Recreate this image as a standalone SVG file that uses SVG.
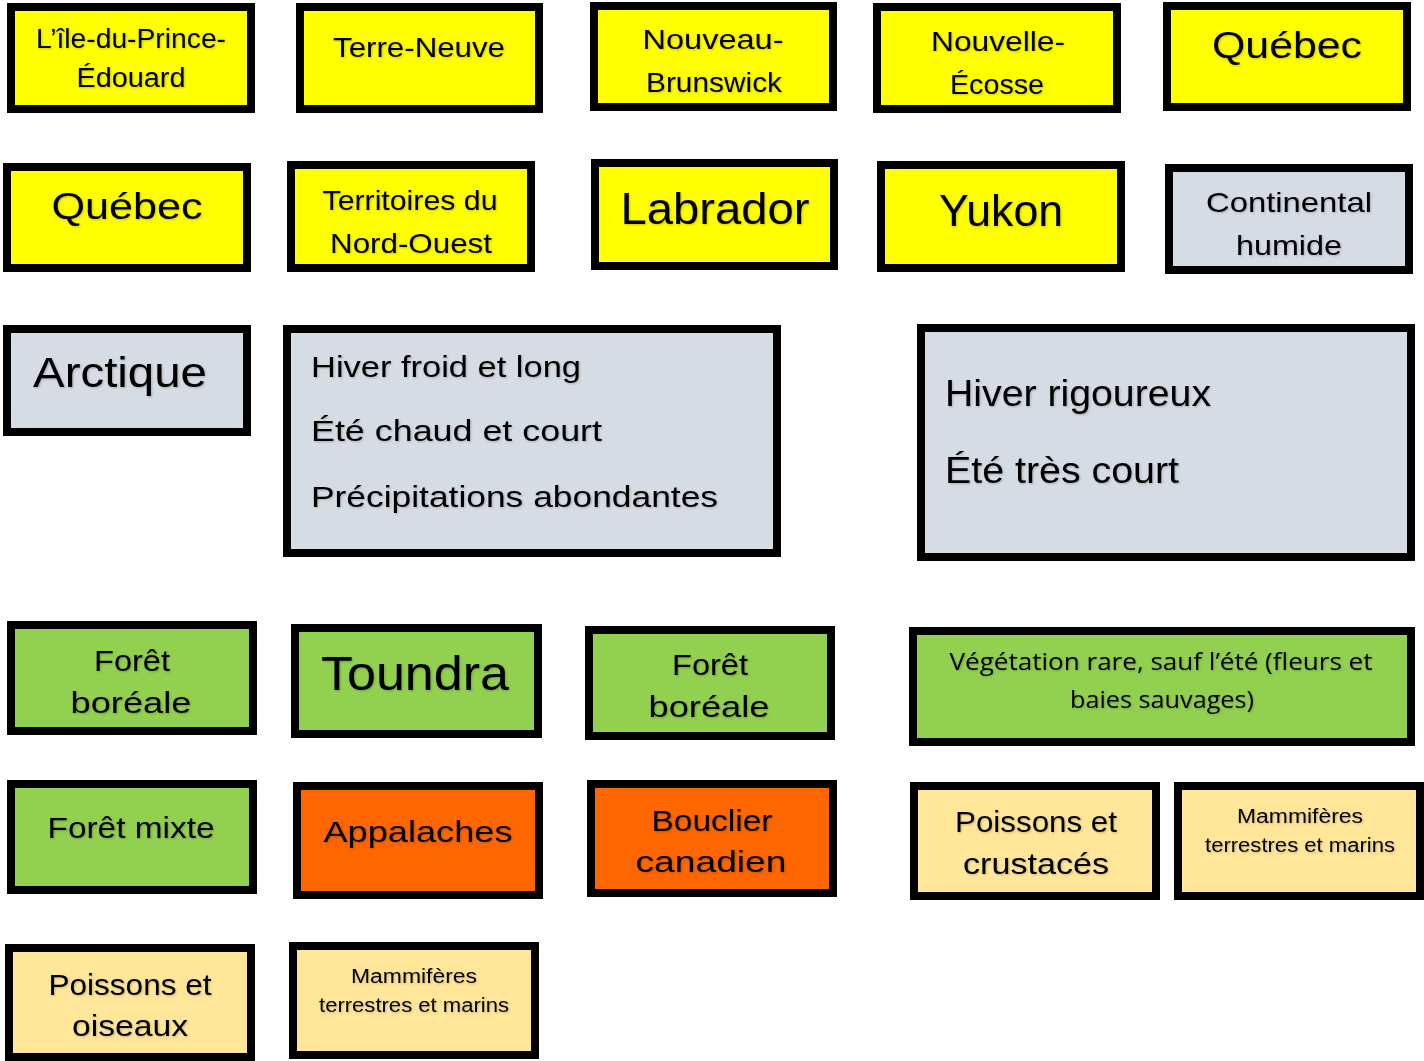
<svg xmlns="http://www.w3.org/2000/svg" width="1424" height="1061" viewBox="0 0 1424 1061">
<defs>
<filter id="ts" x="-5%" y="-20%" width="110%" height="140%">
<feDropShadow dx="1" dy="1" stdDeviation="0.8" flood-color="#000" flood-opacity="0.22"/>
</filter>
</defs>
<style>
rect{stroke:#000;stroke-width:8}
.y{fill:#FFFF00}.g{fill:#D6DCE4}.v{fill:#92D050}.o{fill:#FF6600}.t{fill:#FFE699}
text{font-family:"Liberation Sans",Arial,sans-serif;fill:#000;text-anchor:middle;filter:url(#ts)}
.l{text-anchor:start}
.c{font-family:"Open Sans","Liberation Sans",sans-serif}
</style>
<rect x="0" y="0" width="1424" height="1061" style="fill:#fff;stroke:none"/>
<g id="connectors"/>
<g id="n1"><rect class="y" x="11" y="7" width="240" height="102"/>
<text x="131" y="48" font-size="27" textLength="190" lengthAdjust="spacingAndGlyphs">L’île-du-Prince-</text>
<text x="131" y="87" font-size="27" textLength="109" lengthAdjust="spacingAndGlyphs">Édouard</text></g>
<g id="n2"><rect class="y" x="300" y="7" width="239" height="102"/>
<text x="419" y="57" font-size="28" textLength="172" lengthAdjust="spacingAndGlyphs">Terre-Neuve</text></g>
<g id="n3"><rect class="y" x="594" y="6" width="239" height="101"/>
<text x="713" y="49" font-size="28" textLength="141" lengthAdjust="spacingAndGlyphs">Nouveau-</text>
<text x="714" y="92" font-size="28" textLength="136" lengthAdjust="spacingAndGlyphs">Brunswick</text></g>
<g id="n4"><rect class="y" x="877" y="7" width="240" height="102"/>
<text x="998" y="51" font-size="28" textLength="134" lengthAdjust="spacingAndGlyphs">Nouvelle-</text>
<text x="997" y="94" font-size="28" textLength="94" lengthAdjust="spacingAndGlyphs">Écosse</text></g>
<g id="n5"><rect class="y" x="1167" y="6" width="240" height="101"/>
<text x="1287" y="58" font-size="36" textLength="150" lengthAdjust="spacingAndGlyphs">Québec</text></g>
<g id="n6"><rect class="y" x="7" y="167" width="240" height="101"/>
<text x="127" y="219" font-size="36" textLength="151" lengthAdjust="spacingAndGlyphs">Québec</text></g>
<g id="n7"><rect class="y" x="291" y="165" width="240" height="103"/>
<text x="410" y="210" font-size="28" textLength="175" lengthAdjust="spacingAndGlyphs">Territoires du</text>
<text x="411" y="253" font-size="28" textLength="162" lengthAdjust="spacingAndGlyphs">Nord-Ouest</text></g>
<g id="n8"><rect class="y" x="595" y="163" width="239" height="103"/>
<text x="715" y="224" font-size="44" textLength="189" lengthAdjust="spacingAndGlyphs">Labrador</text></g>
<g id="n9"><rect class="y" x="881" y="165" width="240" height="103"/>
<text x="1001" y="226" font-size="44" textLength="124" lengthAdjust="spacingAndGlyphs">Yukon</text></g>
<g id="n10"><rect class="g" x="1169" y="168" width="240" height="102"/>
<text x="1289" y="212" font-size="28" textLength="166" lengthAdjust="spacingAndGlyphs">Continental</text>
<text x="1289" y="255" font-size="28" textLength="106" lengthAdjust="spacingAndGlyphs">humide</text></g>
<g id="n11"><rect class="g" x="7" y="329" width="240" height="103"/>
<text x="120" y="387" font-size="42" textLength="174" lengthAdjust="spacingAndGlyphs">Arctique</text></g>
<g id="n12"><rect class="g" x="287" y="329" width="490" height="224"/>
<text class="l" x="311" y="377" font-size="30" textLength="270" lengthAdjust="spacingAndGlyphs">Hiver froid et long</text>
<text class="l" x="311" y="441" font-size="30" textLength="291" lengthAdjust="spacingAndGlyphs">Été chaud et court</text>
<text class="l" x="311" y="507" font-size="30" textLength="407" lengthAdjust="spacingAndGlyphs">Précipitations abondantes</text></g>
<g id="n13"><rect class="g" x="921" y="328" width="490" height="229"/>
<text class="l" x="945" y="406" font-size="36" textLength="266" lengthAdjust="spacingAndGlyphs">Hiver rigoureux</text>
<text class="l" x="945" y="483" font-size="36" textLength="234" lengthAdjust="spacingAndGlyphs">Été très court</text></g>
<g id="n14"><rect class="v" x="11" y="625" width="242" height="106"/>
<text x="132" y="671" font-size="30" textLength="76" lengthAdjust="spacingAndGlyphs">Forêt</text>
<text x="131" y="713" font-size="30" textLength="121" lengthAdjust="spacingAndGlyphs">boréale</text></g>
<g id="n15"><rect class="v" x="295" y="628" width="243" height="106"/>
<text x="415" y="690" font-size="48" textLength="188" lengthAdjust="spacingAndGlyphs">Toundra</text></g>
<g id="n16"><rect class="v" x="589" y="630" width="242" height="106"/>
<text x="710" y="675" font-size="30" textLength="76" lengthAdjust="spacingAndGlyphs">Forêt</text>
<text x="709" y="717" font-size="30" textLength="121" lengthAdjust="spacingAndGlyphs">boréale</text></g>
<g id="n17"><rect class="v" x="913" y="631" width="498" height="111"/>
<text class="c" x="1161" y="670" font-size="24" textLength="423" lengthAdjust="spacingAndGlyphs">Végétation rare, sauf l’été (fleurs et</text>
<text class="c" x="1162" y="708" font-size="24" textLength="184" lengthAdjust="spacingAndGlyphs">baies sauvages)</text></g>
<g id="n18"><rect class="v" x="11" y="784" width="242" height="106"/>
<text x="131" y="838" font-size="30" textLength="167" lengthAdjust="spacingAndGlyphs">Forêt mixte</text></g>
<g id="n19"><rect class="o" x="297" y="786" width="242" height="109"/>
<text x="418" y="842" font-size="30" textLength="189" lengthAdjust="spacingAndGlyphs">Appalaches</text></g>
<g id="n20"><rect class="o" x="591" y="784" width="242" height="109"/>
<text x="712" y="831" font-size="30" textLength="121" lengthAdjust="spacingAndGlyphs">Bouclier</text>
<text x="711" y="872" font-size="30" textLength="151" lengthAdjust="spacingAndGlyphs">canadien</text></g>
<g id="n21"><rect class="t" x="914" y="786" width="242" height="110"/>
<text x="1036" y="832" font-size="30" textLength="162" lengthAdjust="spacingAndGlyphs">Poissons et</text>
<text x="1036" y="874" font-size="30" textLength="146" lengthAdjust="spacingAndGlyphs">crustacés</text></g>
<g id="n22"><rect class="t" x="1178" y="786" width="242" height="110"/>
<text x="1300" y="823" font-size="20" textLength="126" lengthAdjust="spacingAndGlyphs">Mammifères</text>
<text x="1300" y="852" font-size="20" textLength="190" lengthAdjust="spacingAndGlyphs">terrestres et marins</text></g>
<g id="n23"><rect class="t" x="9" y="948" width="242" height="109"/>
<text x="130" y="995" font-size="30" textLength="163" lengthAdjust="spacingAndGlyphs">Poissons et</text>
<text x="130" y="1036" font-size="30" textLength="116" lengthAdjust="spacingAndGlyphs">oiseaux</text></g>
<g id="n24"><rect class="t" x="293" y="946" width="242" height="109"/>
<text x="414" y="983" font-size="20" textLength="126" lengthAdjust="spacingAndGlyphs">Mammifères</text>
<text x="414" y="1012" font-size="20" textLength="190" lengthAdjust="spacingAndGlyphs">terrestres et marins</text></g>
</svg>
